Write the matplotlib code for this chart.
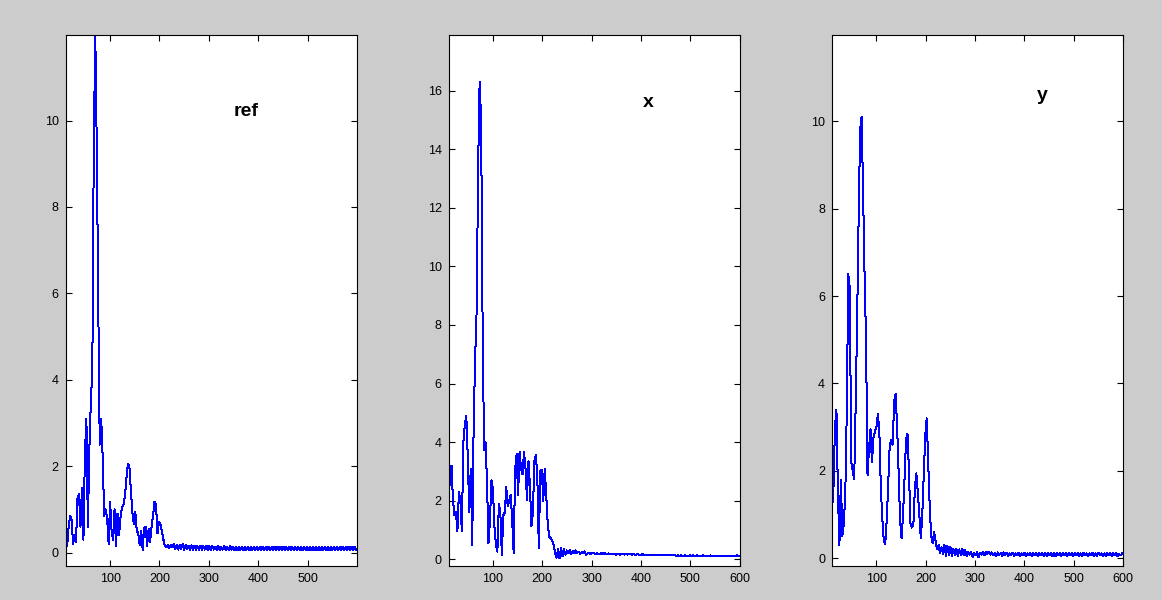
import numpy as np
import matplotlib
matplotlib.use('Agg')
import matplotlib.pyplot as plt


# spectra sampled every 3 units starting at 10 (peak region up to 229, then the tail)
ref_peak = [0.45, 0.15, 0.6, 0.85, 0.75, 0.2, 0.4, 0.25, 1.25, 1.35,
            0.6, 1.5, 0.3, 2.3, 3.1, 0.6, 2.4, 3.5, 4.2, 9.5,
            11.98, 9.4, 5.8, 2.5, 3.1, 2.2, 0.85, 1.0, 0.8, 0.2,
            1.18, 0.5, 0.3, 1.0, 0.15, 0.9, 0.4, 0.8, 1.05, 1.1,
            1.3, 1.72, 2.05, 2.0, 1.45, 0.95, 0.67, 0.95, 0.5, 0.45,
            0.17, 0.5, 0.06, 0.57, 0.6, 0.15, 0.55, 0.25, 0.6, 0.85,
            1.18, 1.1, 0.45, 0.7, 0.65, 0.5, 0.3, 0.15, 0.12, 0.18,
            0.1, 0.18, 0.12, 0.2]
ref_tail = [0.08, 0.18, 0.07, 0.17, 0.09, 0.2, 0.06, 0.17, 0.08, 0.16,
            0.06, 0.17, 0.07, 0.16, 0.06, 0.15, 0.07, 0.16, 0.06, 0.15,
            0.07, 0.16, 0.06, 0.15, 0.06, 0.15, 0.07, 0.14, 0.06, 0.15,
            0.06, 0.14, 0.07, 0.15, 0.06, 0.14, 0.06, 0.15, 0.07, 0.14,
            0.06, 0.14, 0.05, 0.14, 0.06, 0.13, 0.05, 0.14, 0.06, 0.13,
            0.05, 0.14, 0.06, 0.13, 0.05, 0.14, 0.05, 0.13, 0.06, 0.14,
            0.05, 0.13, 0.06, 0.14, 0.05, 0.13, 0.05, 0.14, 0.06, 0.13,
            0.05, 0.13, 0.06, 0.14, 0.05, 0.13, 0.05, 0.14, 0.06, 0.13,
            0.05, 0.13, 0.05, 0.14, 0.06, 0.13, 0.05, 0.13, 0.06, 0.14,
            0.05, 0.13, 0.05, 0.13, 0.06, 0.14, 0.05, 0.13, 0.05, 0.13,
            0.06, 0.14, 0.05, 0.13, 0.05, 0.13, 0.06, 0.14, 0.05, 0.13,
            0.05, 0.13, 0.06, 0.14, 0.05, 0.13, 0.05, 0.14, 0.06, 0.13,
            0.05, 0.13, 0.06]

x_peak = [1.57, 3.0, 3.2, 2.0, 1.5, 1.6, 0.95, 2.3, 2.0, 0.95,
          4.0, 4.6, 4.9, 3.5, 1.6, 3.1, 0.5, 4.7, 6.9, 8.5,
          13.4, 16.3, 15.0, 8.1, 3.74, 4.0, 2.6, 0.55, 1.35, 2.7,
          2.4, 1.12, 0.5, 0.26, 1.9, 1.6, 0.15, 1.5, 1.6, 2.46,
          1.8, 2.0, 2.2, 1.35, 0.2, 3.06, 3.6, 2.2, 3.68, 3.1,
          2.9, 3.68, 3.1, 2.03, 3.35, 2.5, 1.12, 1.57, 3.35, 3.57,
          2.8, 0.37, 3.0, 3.06, 2.0, 3.1, 2.2, 1.23, 0.77, 0.72,
          0.63, 0.5, 0.2, 0.05]
x_tail = [0.35, 0.03, 0.4, 0.1, 0.35, 0.15, 0.3, 0.2, 0.32, 0.18,
          0.28, 0.2, 0.3, 0.22, 0.26, 0.18, 0.24, 0.2, 0.27, 0.15,
          0.2, 0.22, 0.18, 0.2, 0.21, 0.18, 0.2, 0.19, 0.17, 0.2,
          0.18, 0.22, 0.19, 0.17, 0.2, 0.18, 0.17, 0.19, 0.18, 0.16,
          0.17, 0.18, 0.16, 0.17, 0.18, 0.16, 0.17, 0.16, 0.17, 0.18,
          0.16, 0.17, 0.15, 0.16, 0.17, 0.15, 0.16, 0.17, 0.15, 0.16,
          0.15, 0.16, 0.15, 0.16, 0.15, 0.14, 0.16, 0.15, 0.14, 0.15,
          0.15, 0.14, 0.15, 0.14, 0.15, 0.14, 0.13, 0.14, 0.15, 0.13,
          0.12, 0.13, 0.12, 0.13, 0.12, 0.12, 0.13, 0.12, 0.12, 0.13,
          0.12, 0.13, 0.12, 0.12, 0.13, 0.12, 0.11, 0.12, 0.13, 0.12,
          0.12, 0.11, 0.12, 0.13, 0.12, 0.11, 0.12, 0.12, 0.11, 0.12,
          0.12, 0.11, 0.12, 0.12, 0.11, 0.12, 0.11, 0.12, 0.12, 0.11,
          0.12, 0.13, 0.12]

y_peak = [1.1, 1.6, 3.0, 3.4, 1.5, 0.3, 1.8, 0.5, 0.8, 1.5,
          3.4, 6.5, 6.2, 2.2, 2.0, 1.8, 3.5, 5.5, 7.8, 9.8,
          10.1, 8.4, 6.5, 5.0, 1.9, 2.5, 2.95, 2.2, 2.75, 2.9,
          3.0, 3.3, 2.9, 1.6, 0.9, 0.4, 0.33, 0.9, 1.7, 2.6,
          2.7, 2.6, 3.6, 3.77, 3.0, 2.0, 0.87, 0.45, 1.0, 1.8,
          2.7, 2.85, 2.0, 0.8, 0.7, 0.79, 1.6, 1.94, 1.5, 1.0,
          0.45, 1.0, 1.9, 2.8, 3.2, 2.2, 1.2, 0.5, 0.35, 0.6,
          0.4, 0.2, 0.3, 0.12]
y_tail = [0.25, 0.1, 0.3, 0.05, 0.28, 0.08, 0.25, 0.05, 0.22, 0.08,
          0.22, 0.05, 0.2, 0.08, 0.22, 0.06, 0.18, 0.04, 0.15, 0.08,
          0.14, 0.03, 0.12, 0.06, 0.13, 0.02, 0.12, 0.08, 0.14, 0.06,
          0.15, 0.1, 0.15, 0.08, 0.13, 0.06, 0.12, 0.04, 0.13, 0.07,
          0.12, 0.05, 0.13, 0.07, 0.12, 0.05, 0.11, 0.06, 0.12, 0.05,
          0.11, 0.06, 0.12, 0.05, 0.11, 0.06, 0.12, 0.05, 0.11, 0.06,
          0.12, 0.05, 0.11, 0.06, 0.12, 0.04, 0.11, 0.06, 0.12, 0.05,
          0.11, 0.05, 0.12, 0.06, 0.11, 0.04, 0.12, 0.05, 0.11, 0.06,
          0.11, 0.05, 0.12, 0.06, 0.11, 0.05, 0.12, 0.06, 0.11, 0.05,
          0.11, 0.06, 0.12, 0.05, 0.11, 0.05, 0.12, 0.06, 0.11, 0.05,
          0.11, 0.06, 0.12, 0.05, 0.11, 0.05, 0.12, 0.06, 0.11, 0.05,
          0.11, 0.05, 0.12, 0.06, 0.11, 0.05, 0.12, 0.06, 0.11, 0.04,
          0.1, 0.06, 0.11]

titles = ['ref', 'x', 'y']
title_pos = [(376, 10.2), (414, 15.6), (437, 10.6)]
x_ticks = [[100, 200, 300, 400, 500],
           [100, 200, 300, 400, 500, 600],
           [100, 200, 300, 400, 500, 600]]
y_ticks = [[0, 2, 4, 6, 8, 10],
           [0, 2, 4, 6, 8, 10, 12, 14, 16],
           [0, 2, 4, 6, 8, 10]]
x_lims = [(10, 599.5), (10, 600), (10, 600)]
y_lims = [(-0.31, 11.98), (-0.23, 17.9), (-0.18, 11.98)]

series = [ref_peak + ref_tail, x_peak + x_tail, y_peak + y_tail]

plt.rcParams['font.family'] = ['Liberation Sans', 'DejaVu Sans']

fig = plt.figure(figsize=(11.62, 6.0), dpi=100, facecolor='#cccccc')
lefts = [0.0565, 0.386, 0.716]

for i in range(3):
    ax = fig.add_axes([lefts[i], 0.0567, 0.2505, 0.885])
    vals = np.array(series[i])
    xs = 10 + 3 * np.arange(len(vals))
    # 1 px line, no antialiasing, like the old matlab renderer
    ax.plot(xs, vals, color='#0000ff', linewidth=0.72, antialiased=False)
    ax.set_xlim(*x_lims[i])
    ax.set_ylim(*y_lims[i])
    ax.set_xticks(x_ticks[i])
    ax.set_yticks(y_ticks[i])
    ax.tick_params(direction='in', top=True, right=True, length=4,
                   width=0.8, labelsize=9, colors='black', pad=5)
    for sp in ax.spines.values():
        sp.set_linewidth(0.8)
    tx, ty = title_pos[i]
    ax.text(tx, ty, titles[i], fontsize=14, fontweight='bold',
            ha='center', va='center')

fig.savefig('out.png', dpi=100, facecolor=fig.get_facecolor())
